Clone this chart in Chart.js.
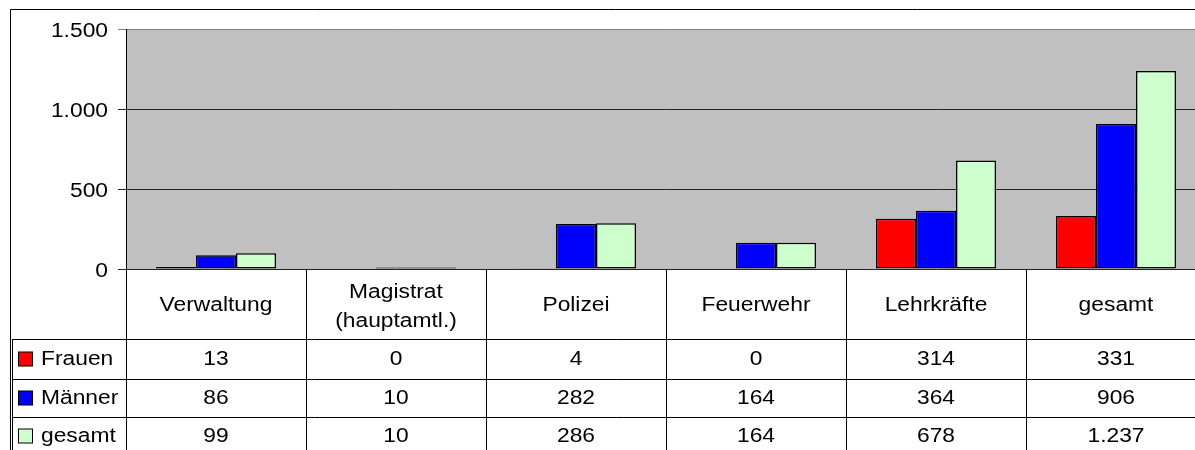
<!DOCTYPE html>
<html>
<head>
<meta charset="utf-8">
<script src="https://cdn.jsdelivr.net/npm/chart.js@4.4.1/dist/chart.umd.min.js"></script>
<style>
    html, body { margin: 0; padding: 0; background: #fff; overflow: hidden; width: 1195px; height: 450px; }
    #wrap { position: absolute; left: 0; top: 0; width: 1220px; height: 460px; }
</style>
</head>
<body>
<div id="wrap"><canvas id="chart" width="1220" height="460"></canvas></div>
<script>
const categories = ['Verwaltung', ['Magistrat', '(hauptamtl.)'], 'Polizei', 'Feuerwehr', 'Lehrkräfte', 'gesamt'];
const seriesNames = ['Frauen', 'Männer', 'gesamt'];
const frauen = [13, 0, 4, 0, 314, 331];
const maenner = [86, 10, 282, 164, 364, 906];
const gesamt = [99, 10, 286, 164, 678, 1237];
const yTicks = [0, 500, 1000, 1500];

const seriesColors = ['#FF0000', '#0000FF', '#CCFFCC'];
const FONT = '"Liberation Sans", Arial, sans-serif';

function fmtDe(n) {
    return String(n).replace(/\B(?=(\d{3})+(?!\d))/g, '.');
}

// text is a bit wider than normal in the reference, so stretch it
function stretchText(ctx, txt, x, y, align) {
    ctx.save();
    ctx.translate(x, y);
    ctx.scale(1.14, 1);
    ctx.textAlign = align;
    ctx.textBaseline = 'middle';
    ctx.fillText(txt, 0, 0);
    ctx.restore();
}

const tablePlugin = {
    id: 'dataTable',
    beforeDraw(chart) {
        const {ctx, chartArea} = chart;
        ctx.save();
        ctx.fillStyle = '#C0C0C0';
        ctx.fillRect(chartArea.left, chartArea.top, chartArea.right - chartArea.left, chartArea.bottom - chartArea.top);
        ctx.restore();
    },
    afterDraw(chart) {
        const {ctx, chartArea, scales} = chart;
        const x = scales.x;
        const y = scales.y;
        const half = (x.getPixelForValue(1) - x.getPixelForValue(0)) / 2;
        const rowH = [70, 40, 38, 38];
        const top = chartArea.bottom;
        const rowY = [top];
        rowH.forEach((h, i) => rowY.push(rowY[i] + h));
        const legendLeft = 12.5;

        ctx.save();
        ctx.strokeStyle = '#000';
        ctx.lineWidth = 1;

        // outer chart border
        ctx.beginPath();
        ctx.moveTo(10.5, chart.height);
        ctx.lineTo(10.5, 9.5);
        ctx.lineTo(chart.width, 9.5);
        ctx.stroke();

        // vertical separators
        ctx.beginPath();
        for (let i = 0; i <= categories.length; i++) {
            const px = Math.round(x.getPixelForValue(i) - half) + 0.5;
            ctx.moveTo(px, top);
            ctx.lineTo(px, chart.height);
        }
        ctx.moveTo(legendLeft, rowY[1]);
        ctx.lineTo(legendLeft, chart.height);
        // horizontal rows
        for (let r = 1; r < rowY.length - 1; r++) {
            ctx.moveTo(legendLeft, Math.round(rowY[r]) + 0.5);
            ctx.lineTo(chart.width, Math.round(rowY[r]) + 0.5);
        }
        ctx.stroke();

        ctx.fillStyle = '#000';
        ctx.font = '20px ' + FONT;

        // y axis labels
        yTicks.forEach(v => {
            stretchText(ctx, fmtDe(v), chartArea.left - 18, y.getPixelForValue(v) + 2, 'right');
        });

        // category labels
        categories.forEach((c, i) => {
            const cx = x.getPixelForValue(i);
            const cy = top + rowH[0] / 2;
            if (Array.isArray(c)) {
                stretchText(ctx, c[0], cx, cy - 12, 'center');
                stretchText(ctx, c[1], cx, cy + 17, 'center');
            } else {
                stretchText(ctx, c, cx, cy + 1, 'center');
            }
        });

        // value rows with legend keys
        const rows = [frauen, maenner, gesamt];
        rows.forEach((vals, r) => {
            const cy = (rowY[r + 1] + rowY[r + 2]) / 2;
            ctx.fillStyle = seriesColors[r];
            ctx.fillRect(18.5, cy - 7, 14, 14);
            ctx.strokeStyle = '#000';
            ctx.strokeRect(18.5, cy - 7, 14, 14);
            ctx.fillStyle = '#000';
            stretchText(ctx, seriesNames[r], 41, cy, 'left');
            vals.forEach((v, i) => {
                stretchText(ctx, fmtDe(v), x.getPixelForValue(i), cy, 'center');
            });
        });
        ctx.restore();
    }
};

const barStyle = {
    borderColor: '#000',
    borderWidth: 1.5,
    borderSkipped: false,
    categoryPercentage: 0.667,
    barPercentage: 1.0
};

new Chart(document.getElementById('chart').getContext('2d'), {
    type: 'bar',
    data: {
        labels: categories,
        datasets: [
            { label: seriesNames[0], data: frauen, backgroundColor: seriesColors[0], ...barStyle },
            { label: seriesNames[1], data: maenner, backgroundColor: seriesColors[1], ...barStyle },
            { label: seriesNames[2], data: gesamt, backgroundColor: seriesColors[2], ...barStyle }
        ]
    },
    options: {
        responsive: false,
        animation: false,
        layout: {
            padding: { top: 29, right: 14, bottom: 191, left: 0 }
        },
        plugins: {
            legend: { display: false },
            tooltip: { enabled: false }
        },
        scales: {
            x: {
                display: false
            },
            y: {
                min: yTicks[0],
                max: yTicks[yTicks.length - 1],
                afterBuildTicks(scale) {
                    scale.ticks = yTicks.map(v => ({ value: v }));
                },
                afterFit(scale) {
                    scale.width = 126;
                },
                ticks: {
                    display: false
                },
                grid: {
                    color: c => c.tick && c.tick.value === 1500 ? '#808080' : '#222',
                    lineWidth: 1,
                    tickLength: 8,
                    drawTicks: true
                },
                border: { color: '#000', width: 1 }
            }
        }
    },
    plugins: [tablePlugin]
});
</script>
</body>
</html>
